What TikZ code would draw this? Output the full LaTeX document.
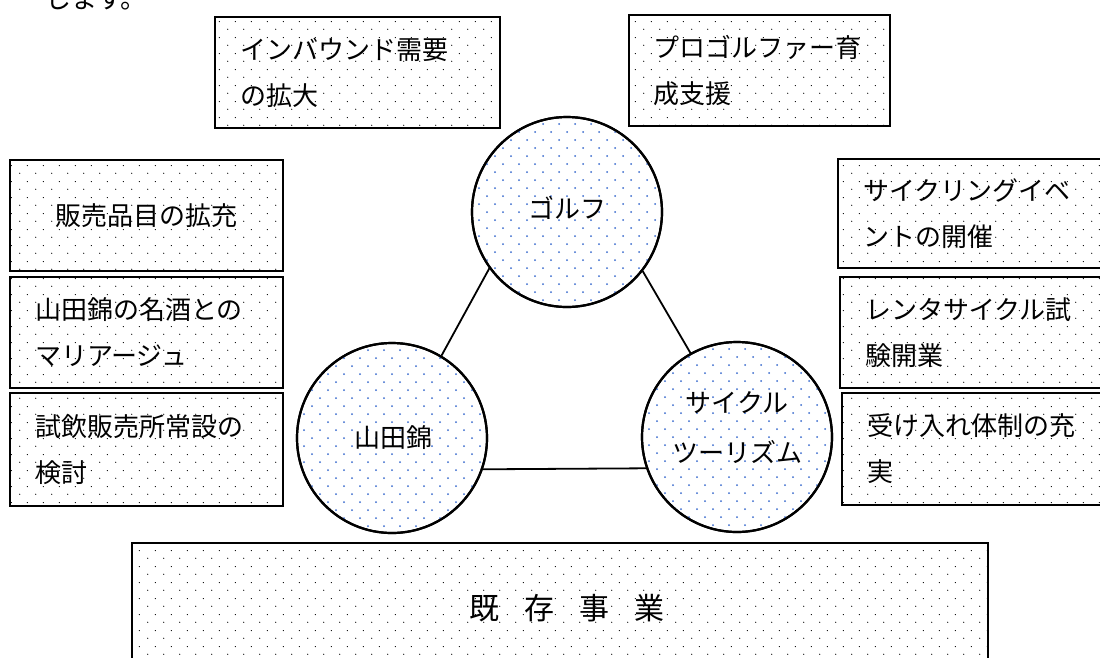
\documentclass[tikz,border=0pt]{standalone}
\usepackage{fontspec}
\setmainfont{Noto Sans CJK JP}
\usetikzlibrary{patterns.meta}
\definecolor{dotblue}{RGB}{55,105,205}
\tikzdeclarepattern{name=bdots,type=colored,bottom left={(0pt,0pt)},top right={(16pt,16pt)},tile size={(16pt,16pt)},
  code={\fill[black] (4pt,4pt) circle[radius=0.65pt]; \fill[black] (12pt,12pt) circle[radius=0.65pt];}}
\begin{document}
\begin{tikzpicture}[x=1pt,y=-1pt,
  box/.style={draw,line width=2.2pt,pattern=bdots,rectangle,inner ysep=0pt,align=left,
    font=\fontsize{26pt}{46pt}\selectfont},
  ball/.style={draw,line width=2.2pt,circle,minimum size=190pt,inner sep=0pt},
  balltext/.style={inner sep=0pt,align=center,font=\fontsize{26pt}{50pt}\selectfont},
  bluedot/.style={fill=dotblue},
  link/.style={line width=1.8pt}]
\useasboundingbox (0,0) rectangle (1100,657);
\clip (0,0) rectangle (1100,657);
\node[anchor=west,inner sep=0pt,font=\fontsize{26pt}{26pt}\selectfont] (intro) at (45,-1) {します。};
% top boxes
\node[box,minimum width=285pt,minimum height=111pt,text width=235pt,inner xsep=25pt] (b1) at (357.5,72.5) {インバウンド需要\\の拡大};
\node[box,minimum width=261pt,minimum height=111pt,text width=213pt,inner xsep=24pt] (b2) at (759.5,70.5) {プロゴルファー育\\成支援};
% left boxes
\node[box,align=center,minimum width=273pt,minimum height=111pt,text width=223pt,inner xsep=25pt] (l1) at (146.5,215.5) {販売品目の拡充};
\node[box,minimum width=273pt,minimum height=111pt,text width=223pt,inner xsep=25pt] (l2) at (146.5,332.5) {山田錦の名酒との\\マリアージュ};
\node[box,minimum width=273pt,minimum height=113pt,text width=223pt,inner xsep=25pt] (l3) at (146.5,449.5) {試飲販売所常設の\\検討};
% right boxes
\node[box,minimum width=272pt,minimum height=109pt,text width=222pt,inner xsep=25pt] (r1) at (974,213.5) {サイクリングイベ\\ントの開催};
\node[box,minimum width=270pt,minimum height=111pt,text width=220pt,inner xsep=25pt] (r2) at (975,332.5) {レンタサイクル試\\験開業};
\node[box,minimum width=268pt,minimum height=112pt,text width=218pt,inner xsep=25pt] (r3) at (976,449) {受け入れ体制の充\\実};
% bottom box
\node[box,align=center,minimum width=856pt,minimum height=130pt,font=\fontsize{30pt}{30pt}\selectfont] (base) at (560,608)
  {\hspace{14pt}既\hspace{25pt}存\hspace{25pt}事\hspace{25pt}業};
% circles
\node[ball,fill=white] (golf) at (567,212) {};
\node[ball,fill=white] (yama) at (392,438) {};
\node[ball,fill=white] (cyc) at (737,437) {};
\foreach \cx/\cy in {567/212,392/438,737/437}{
  \begin{scope}
    \clip (\cx,\cy) circle[radius=94];
    \foreach \j in {-12,...,12}{
      \pgfmathsetmacro{\off}{mod(abs(\j),2)*8}
      \foreach \i in {-7,...,6}{
        \fill[bluedot] ({\cx+16*\i+\off},{\cy+8*\j}) circle[radius=1pt];
      }
    }
  \end{scope}
}
\node[ball] (golfrim) at (golf) {};
\node[ball] (yamarim) at (yama) {};
\node[ball] (cycrim) at (cyc) {};
\node[balltext] (golft) at (567,208) {ゴルフ};
\node[balltext] (yamat) at (393,438) {山田錦};
\node[balltext] (cyct) at (737,428) {サイクル\\ツーリズム};
% links
\draw[link] (golf.216.7) -- (yama.59);
\draw[link] (golf.322.5) -- (cyc.119.8);
\draw[link] (yama.-19.7) -- (cyc.199.7);
\end{tikzpicture}
\end{document}
